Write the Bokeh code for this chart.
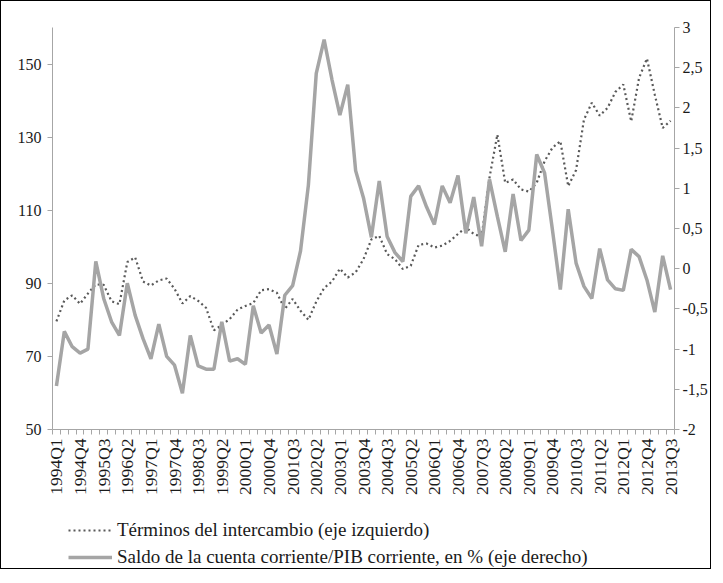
from bokeh.plotting import figure
from bokeh.models import Range1d, LinearAxis, FixedTicker, Legend, LegendItem, Column
from bokeh.embed import file_html
from bokeh.resources import INLINE
from math import pi

# Categories (quarters 1994Q1 .. 2013Q3)
quarters = [f"{y}Q{q}" for y in range(1994, 2014) for q in range(1, 5)][:79]
label_every = 3
tick_labels = quarters[::label_every]

# Términos del intercambio (eje izquierdo)
terminos = [79.6, 85.3, 86.7, 84.4, 87.2, 89.7, 89.6, 85.1, 84.3, 95.8,
            97.1, 90.5, 89.4, 90.8, 91.3, 88.5, 84.5, 86.5, 85.2, 83.3,
            77.1, 78.6, 80.2, 82.8, 83.8, 84.6, 88.1, 88.4, 87.4, 83.0,
            85.7, 82.5, 80.0, 85.0, 88.7, 90.5, 94.0, 91.6, 93.0, 96.6,
            102.0, 103.0, 98.0, 96.6, 93.9, 94.8, 100.5, 100.9, 99.8, 100.3,
            101.6, 103.5, 105.3, 103.5, 102.7, 118.9, 130.7, 117.5, 118.4, 115.7,
            115.1, 117.5, 123.4, 127.1, 128.9, 116.6, 121.0, 134.8, 139.4, 135.9,
            138.0, 142.4, 144.4, 134.3, 146.2, 151.5, 141.6, 132.5, 134.5]

# Saldo de la cuenta corriente/PIB corriente, en % (eje derecho)
saldo = [-1.46, -0.78, -0.97, -1.05, -1.00, 0.09, -0.37, -0.66, -0.83, -0.18,
         -0.58, -0.87, -1.12, -0.69, -1.09, -1.20, -1.55, -0.83, -1.21, -1.25,
         -1.25, -0.66, -1.15, -1.12, -1.19, -0.46, -0.80, -0.70, -1.06, -0.33,
         -0.21, 0.22, 1.04, 2.43, 2.85, 2.35, 1.91, 2.29, 1.22, 0.88,
         0.39, 1.09, 0.40, 0.20, 0.09, 0.90, 1.03, 0.77, 0.55, 1.03,
         0.82, 1.16, 0.44, 0.89, 0.28, 1.11, 0.65, 0.21, 0.93, 0.35,
         0.48, 1.42, 1.19, 0.48, -0.26, 0.74, 0.07, -0.22, -0.37, 0.25,
         -0.14, -0.25, -0.27, 0.24, 0.15, -0.14, -0.54, 0.16, -0.26]

left_ticks = [50, 70, 90, 110, 130, 150]
right_ticks = [-2, -1.5, -1, -0.5, 0, 0.5, 1, 1.5, 2, 2.5, 3]
right_tick_labels = ["-2", "-1,5", "-1", "-0,5", "0", "0,5", "1", "1,5", "2", "2,5", "3"]

legend_labels = ["Términos del intercambio (eje izquierdo)",
                 "Saldo de la cuenta corriente/PIB corriente, en % (eje derecho)"]

x = list(range(len(quarters)))

FONT = "Liberation Serif"
AXIS_GRAY = "#a6a6a6"
TXT = "#1a1a1a"
DOT_COLOR = "#595959"
SOLID_COLOR = "#a5a5a5"
DOT_STYLE = dict(line_dash="2 3", line_width=2.2, color=DOT_COLOR)
SOLID_STYLE = dict(line_width=3.5, color=SOLID_COLOR)

W = 709
H_MAIN = 504
H_LEG = 63

p = figure(width=W, height=H_MAIN, output_backend="svg", toolbar_location=None,
           x_range=Range1d(-0.5, len(quarters) - 0.5), y_range=Range1d(50, 160),
           min_border_left=51, min_border_right=35, min_border_top=26, min_border_bottom=76)
p.outline_line_color = None
p.grid.visible = False
p.background_fill_color = "white"
p.border_fill_color = "white"

# x axis
xt = list(range(0, len(quarters), label_every))
p.xaxis.ticker = FixedTicker(ticks=xt, minor_ticks=[i - 0.5 for i in range(len(quarters) + 1)])
p.xaxis.major_label_overrides = {t: l for t, l in zip(xt, tick_labels)}
p.xaxis.major_label_orientation = pi / 2
p.xaxis.major_tick_out = 0
p.xaxis.major_tick_in = 0
p.xaxis.minor_tick_out = 5
p.xaxis.minor_tick_in = 0
p.xaxis.major_label_standoff = 4

# left axis
p.yaxis.ticker = FixedTicker(ticks=left_ticks, minor_ticks=[])
p.yaxis.major_tick_out = 5
p.yaxis.major_tick_in = 0
p.yaxis.minor_tick_out = 0
p.yaxis.minor_tick_in = 0
p.yaxis.major_label_standoff = 6

# right axis
p.extra_y_ranges = {"right": Range1d(-2, 3)}
ra = LinearAxis(y_range_name="right", ticker=FixedTicker(ticks=right_ticks, minor_ticks=[]))
ra.major_label_overrides = {t: l for t, l in zip(right_ticks, right_tick_labels)}
ra.major_tick_out = 5
ra.major_tick_in = 0
ra.minor_tick_out = 0
ra.minor_tick_in = 0
ra.major_label_standoff = 3
p.add_layout(ra, "right")

for ax in [p.xaxis[0], p.yaxis[0], ra]:
    ax.axis_line_color = AXIS_GRAY
    ax.major_tick_line_color = AXIS_GRAY
    ax.minor_tick_line_color = AXIS_GRAY
    ax.major_label_text_font = FONT
    ax.major_label_text_font_size = "16px"
    ax.major_label_text_color = TXT
p.xaxis.major_label_text_font_size = "17.5px"

p.line(x, terminos, **DOT_STYLE)
p.line(x, saldo, y_range_name="right", **SOLID_STYLE)

# legend strip below the chart (its frame is aligned with the chart's frame by the column)
pl = figure(width=W, height=H_LEG, output_backend="svg", toolbar_location=None,
            x_axis_location=None, y_axis_location=None,
            x_range=Range1d(-0.5, len(quarters) - 0.5), y_range=Range1d(1000, 1001),
            min_border=0)
pl.outline_line_color = None
pl.grid.visible = False
pl.background_fill_color = "white"
pl.border_fill_color = "white"
# same series, kept outside this strip's visible range: only their legend samples show
l1 = pl.line(x, terminos, **DOT_STYLE)
l2 = pl.line(x, saldo, **SOLID_STYLE)

legend = Legend(items=[LegendItem(label=legend_labels[0], renderers=[l1]),
                       LegendItem(label=legend_labels[1], renderers=[l2])],
                location=(16, 0), orientation="vertical",
                border_line_color=None, background_fill_alpha=0,
                label_text_font=FONT, label_text_font_size="19px", label_text_color=TXT,
                glyph_width=44, glyph_height=22, label_height=22, label_standoff=5,
                spacing=5, padding=0, margin=0)
pl.add_layout(legend)

layout = Column(p, pl, spacing=0, styles={"border": "1px solid black"})

open("out.html", "w").write(file_html(layout, INLINE))
